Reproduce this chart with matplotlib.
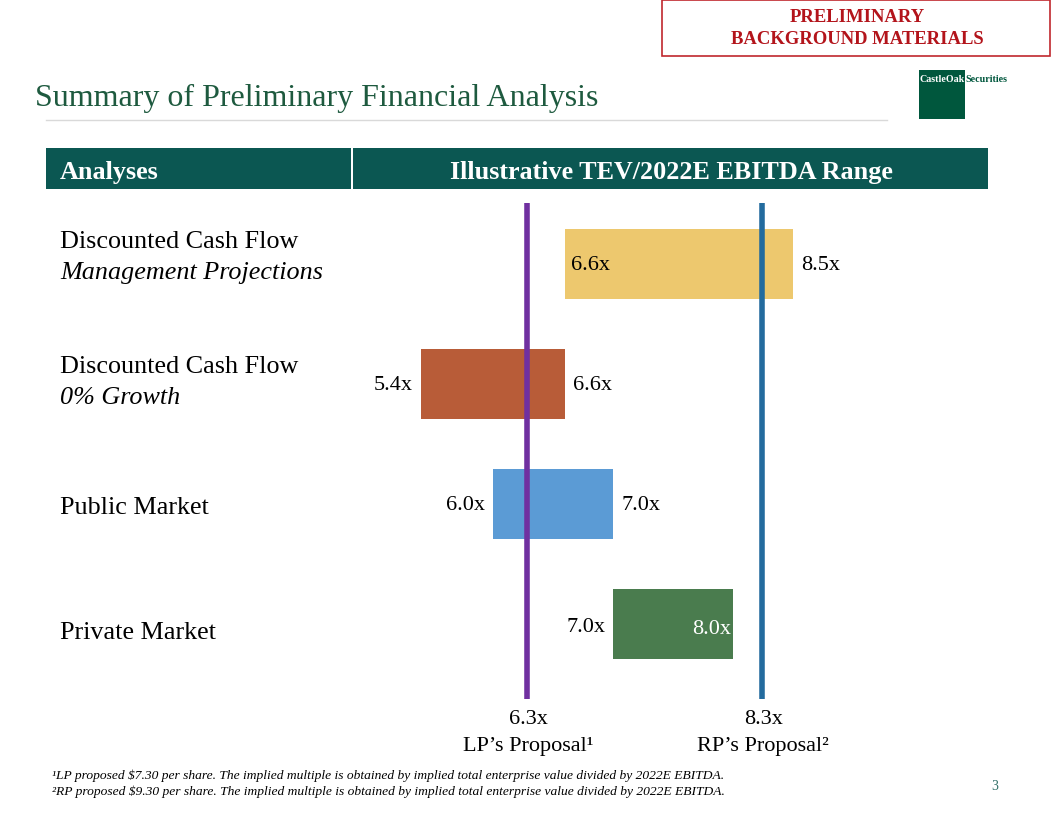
import matplotlib
matplotlib.use("Agg")
import matplotlib.pyplot as plt
from matplotlib.patches import Rectangle
from matplotlib.transforms import blended_transform_factory

plt.rcParams['font.family'] = ['Liberation Serif', 'DejaVu Serif']

# ---- data ----
categories = ["Discounted Cash Flow", "Discounted Cash Flow", "Public Market", "Private Market"]
subtitles = ["Management Projections", "0% Growth", "", ""]
low_values = [6.6, 5.4, 6.0, 7.0]
high_values = [8.5, 6.6, 7.0, 8.0]
low_labels = ["6.6x", "5.4x", "6.0x", "7.0x"]
high_labels = ["8.5x", "6.6x", "7.0x", "8.0x"]
bar_colors = ["#EDC86E", "#B85C38", "#5B9BD5", "#4A7C4E"]
proposal_values = [6.28, 8.24]
proposal_labels = ["6.3x", "8.3x"]
proposal_names = ["LP\u2019s Proposal\u00b9", "RP\u2019s Proposal\u00b2"]
proposal_colors = ["#7030A0", "#236B9E"]
footnotes = [
    "\u00b9LP proposed $7.30 per share. The implied multiple is obtained by implied total enterprise value divided by 2022E EBITDA.",
    "\u00b2RP proposed $9.30 per share. The implied multiple is obtained by implied total enterprise value divided by 2022E EBITDA.",
]

W, H = 1056, 816
fig = plt.figure(figsize=(W / 100, H / 100), dpi=100)

def fx(px):
    return px / W

def fy(py):
    return 1 - py / H

# ---- top-right stamp ----
fig.patches.append(Rectangle((fx(662), fy(56)), fx(1050) - fx(662), fy(0) - fy(56),
                             transform=fig.transFigure, facecolor="white",
                             edgecolor="#C0282E", linewidth=1.2))
fig.text(fx(857), fy(17), "PRELIMINARY", ha="center", va="center",
         color="#B3141B", fontsize=13.4, fontweight="bold")
fig.text(fx(857), fy(39), "BACKGROUND MATERIALS", ha="center", va="center",
         color="#B3141B", fontsize=13.4, fontweight="bold")

# ---- logo ----
fig.patches.append(Rectangle((fx(919), fy(119)), fx(965) - fx(919), fy(70) - fy(119),
                             transform=fig.transFigure, facecolor="#00573D",
                             edgecolor="none"))
fig.text(fx(920), fy(80), "CastleOak", ha="left", va="center", color="white",
         fontsize=7.2, fontweight="bold")
fig.text(fx(965.5), fy(80), "Securities", ha="left", va="center", color="#00573D",
         fontsize=7.2, fontweight="bold")

# ---- title ----
fig.text(fx(35), fy(98), "Summary of Preliminary Financial Analysis", ha="left",
         va="center", color="#1E5A3F", fontsize=23)
fig.add_artist(plt.Line2D([fx(46), fx(887)], [fy(120), fy(120)],
                          transform=fig.transFigure, color="#D9D9D9", linewidth=1))

# ---- header bar ----
fig.patches.append(Rectangle((fx(46), fy(189)), fx(351) - fx(46), fy(148) - fy(189),
                             transform=fig.transFigure, facecolor="#0B5752",
                             edgecolor="none"))
fig.patches.append(Rectangle((fx(353), fy(189)), fx(988) - fx(353), fy(148) - fy(189),
                             transform=fig.transFigure, facecolor="#0B5752",
                             edgecolor="none"))
fig.text(fx(60), fy(173), "Analyses", ha="left", va="center", color="white",
         fontsize=18.8, fontweight="bold")
fig.text(fx(671), fy(173), "Illustrative TEV/2022E EBITDA Range", ha="center",
         va="center", color="white", fontsize=18.8, fontweight="bold")

# ---- chart axes ----
px_per_unit = 120.0
x0_px = 565 - 6.6 * px_per_unit  # pixel of value 0
ax_left_px, ax_right_px = 352, 988
ax_top_px, ax_bot_px = 190, 760
row0_px, row_step = 264, 120.0
ax = fig.add_axes([fx(ax_left_px), fy(ax_bot_px),
                   fx(ax_right_px) - fx(ax_left_px), fy(ax_top_px) - fy(ax_bot_px)])
ax.set_xlim((ax_left_px - x0_px) / px_per_unit, (ax_right_px - x0_px) / px_per_unit)
ax.set_ylim((ax_bot_px - row0_px) / row_step, (ax_top_px - row0_px) / row_step)
ax.axis("off")

ypos = list(range(len(categories)))
widths = [h - l for l, h in zip(low_values, high_values)]
ax.barh(ypos, widths, left=low_values, height=70 / row_step, color=bar_colors,
        edgecolor="none", zorder=1)

line_top = (203 - row0_px) / row_step
line_bot = (699 - row0_px) / row_step
ax.vlines(proposal_values, line_bot, line_top, colors=proposal_colors,
          linewidth=4, zorder=2)

lab_fs = 16
d = 8 / px_per_unit
# Row 0: low inside left, high outside right
ax.text(low_values[0] + 6 / px_per_unit, ypos[0] + 2 / row_step, low_labels[0], ha="left", va="center", fontsize=lab_fs, zorder=3)
ax.text(high_values[0] + d, ypos[0] + 2 / row_step, high_labels[0], ha="left", va="center", fontsize=lab_fs, zorder=3)
# Row 1 & 2: low outside left, high outside right
for i in (1, 2):
    ax.text(low_values[i] - d, ypos[i] + 2 / row_step, low_labels[i], ha="right", va="center", fontsize=lab_fs, zorder=3)
    ax.text(high_values[i] + d, ypos[i] + 2 / row_step, high_labels[i], ha="left", va="center", fontsize=lab_fs, zorder=3)
# Row 3: low outside left (slightly above), high inside right in white
ax.text(low_values[3] - d, ypos[3] + 3 / row_step, low_labels[3], ha="right", va="center", fontsize=lab_fs, zorder=3)
ax.text(high_values[3] - 2 / px_per_unit, ypos[3] + 6 / row_step, high_labels[3], ha="right", va="center", fontsize=lab_fs, color="white", zorder=3)

# proposal labels below lines
for v, lab, name in zip(proposal_values, proposal_labels, proposal_names):
    xv = v + 1.5 / px_per_unit
    ax.text(xv, (720 - row0_px) / row_step, lab, ha="center", va="center", fontsize=16, zorder=3)
    ax.text(xv, (746 - row0_px) / row_step, name, ha="center", va="center", fontsize=16, zorder=3)

# category labels
tr = blended_transform_factory(fig.transFigure, ax.transData)
cat_offsets = [(-22, 9), (-17, 14), (4, 0), (9, 0)]
for i, (cat, sub) in enumerate(zip(categories, subtitles)):
    o1, o2 = cat_offsets[i]
    ax.text(fx(60), ypos[i] + o1 / row_step, cat, transform=tr, ha="left",
            va="center", fontsize=18.8)
    if sub:
        ax.text(fx(60), ypos[i] + o2 / row_step, sub, transform=tr, ha="left",
                va="center", fontsize=18.8, style="italic")

# ---- footnotes ----
fig.text(fx(52), fy(776), footnotes[0], ha="left", va="center", fontsize=9.7, style="italic")
fig.text(fx(52), fy(792), footnotes[1], ha="left", va="center", fontsize=9.7, style="italic")
fig.text(fx(995), fy(787), "3", ha="center", va="center", fontsize=10, color="#2E6E66")

fig.savefig("out.png", dpi=100)
